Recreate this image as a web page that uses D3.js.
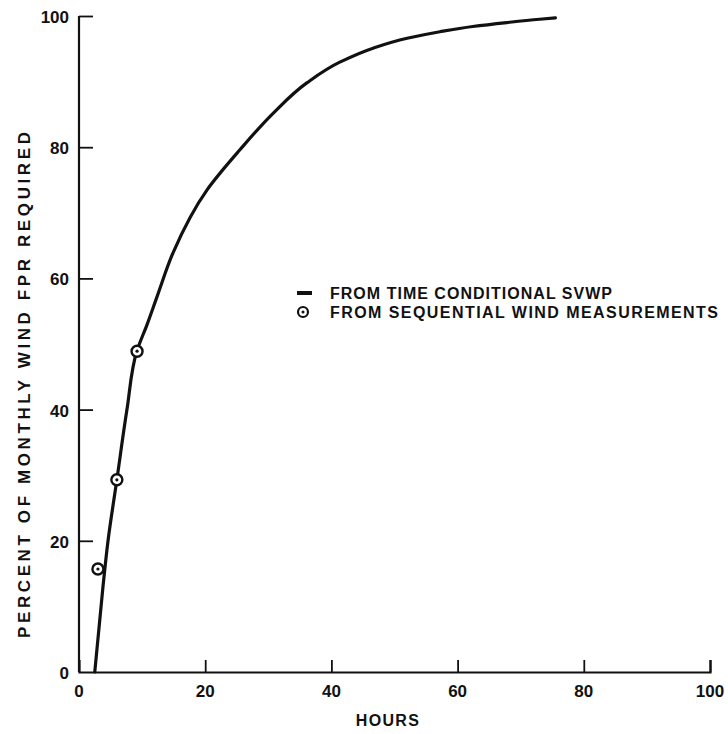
<!DOCTYPE html>
<html>
<head>
<meta charset="utf-8">
<script src="https://cdn.jsdelivr.net/npm/d3@7"></script>
<style>
  body { margin: 0; background: #fff; }
  text { font-family: "Liberation Sans", Arial, sans-serif; font-weight: bold; fill: #111; }
</style>
</head>
<body>
<svg id="chart"></svg>
<script>
// curve: from time conditional SVWP
const curveHours   = [2.5, 3.8, 4.6, 6.0, 7.6, 9.2, 10.8, 12.4, 14.9, 20.3, 25.5, 30.8, 36.1, 41.4, 46.6, 52, 57.2, 62.4, 67.8, 73, 75.5];
const curvePercent = [0, 13, 20, 29.3, 40, 49, 53, 57.3, 63.9, 73.5, 79.6, 85.2, 89.8, 93.0, 95.1, 96.6, 97.6, 98.4, 99.0, 99.5, 99.7];
// points: from sequential wind measurements
const pointHours   = [3.0, 6.0, 9.2];
const pointPercent = [15.7, 29.3, 48.9];
const xTicks = [0, 20, 40, 60, 80, 100];
const yTicks = [0, 20, 40, 60, 80, 100];
const legendLabels = ["FROM TIME CONDITIONAL SVWP", "FROM SEQUENTIAL WIND MEASUREMENTS"];

const W = 728, H = 734;
const margin = { top: 16, right: 18, bottom: 62, left: 79 };

const svg = d3.select("#chart").attr("width", W).attr("height", H);

const x = d3.scaleLinear().domain([0, 100]).range([margin.left, W - margin.right]);
const y = d3.scaleLinear().domain([0, 100]).range([H - margin.bottom, margin.top]);

// x axis, ticks pointing up into the plot
const xAxis = svg.append("g")
  .attr("transform", `translate(0,${y(0)})`)
  .call(d3.axisTop(x).tickValues(xTicks).tickSize(12).tickFormat(""));
xAxis.select(".domain").attr("stroke", "#111").attr("stroke-width", 2.2);
xAxis.selectAll(".tick line").attr("stroke", "#111").attr("stroke-width", 1.8);
xAxis.selectAll(".tick").filter(d => d === 0).remove();

svg.append("g").selectAll("text")
  .data(xTicks)
  .join("text")
  .attr("x", d => x(d))
  .attr("y", y(0) + 25)
  .attr("text-anchor", "middle")
  .style("font-size", "17px")
  .text(d => d);

// y axis, ticks pointing right into the plot
const yAxis = svg.append("g")
  .attr("transform", `translate(${x(0)},0)`)
  .call(d3.axisRight(y).tickValues(yTicks).tickSize(14).tickFormat(""));
yAxis.select(".domain").remove();
yAxis.append("line")
  .attr("x1", 0).attr("x2", 0)
  .attr("y1", y(0)).attr("y2", y(100))
  .attr("stroke", "#111").attr("stroke-width", 2.2);
yAxis.selectAll(".tick line").attr("stroke", "#111").attr("stroke-width", 1.8);
yAxis.selectAll(".tick").filter(d => d === 0).remove();

svg.append("g").selectAll("text")
  .data(yTicks)
  .join("text")
  .attr("x", x(0) - 10)
  .attr("y", d => y(d) + 7)
  .attr("text-anchor", "end")
  .style("font-size", "17px")
  .text(d => d);

// axis titles
svg.append("text")
  .attr("x", 388)
  .attr("y", H - 8)
  .attr("text-anchor", "middle")
  .style("font-size", "16px")
  .style("letter-spacing", "1.3px")
  .text("HOURS");

svg.append("text")
  .attr("transform", `translate(30,385) rotate(-90)`)
  .attr("text-anchor", "middle")
  .attr("textLength", 506)
  .attr("lengthAdjust", "spacing")
  .style("font-size", "17px")
  .text("PERCENT OF MONTHLY WIND FPR REQUIRED");

// curve
const curveData = curveHours.map((h, i) => [h, curvePercent[i]]);
const line = d3.line()
  .x(d => x(d[0]))
  .y(d => y(d[1]))
  .curve(d3.curveMonotoneY);

svg.append("path")
  .datum(curveData)
  .attr("d", line)
  .attr("fill", "none")
  .attr("stroke", "#111")
  .attr("stroke-width", 3.2)
  .attr("stroke-linecap", "round");

// measurement points
const pointData = pointHours.map((h, i) => [h, pointPercent[i]]);
const pts = svg.append("g").selectAll("g")
  .data(pointData)
  .join("g")
  .attr("transform", d => `translate(${x(d[0])},${y(d[1])})`);
pts.append("circle").attr("r", 5.5).attr("fill", "#fff").attr("stroke", "#111").attr("stroke-width", 2.4);
pts.append("circle").attr("r", 1.6).attr("fill", "#111");

// legend
const legend = svg.append("g").attr("transform", "translate(297,293)");
legend.append("line")
  .attr("x1", 0).attr("x2", 15).attr("y1", 0).attr("y2", 0)
  .attr("stroke", "#111").attr("stroke-width", 4);
const lg2 = legend.append("g").attr("transform", "translate(6,19)");
lg2.append("circle").attr("r", 5).attr("fill", "#fff").attr("stroke", "#111").attr("stroke-width", 2.2);
lg2.append("circle").attr("r", 1.5).attr("fill", "#111");

const legendWidths = [282, 388];
legend.selectAll("text.lab")
  .data(legendLabels)
  .join("text")
  .attr("class", "lab")
  .attr("x", 33)
  .attr("y", (d, i) => 6 + i * 19)
  .attr("textLength", (d, i) => legendWidths[i])
  .attr("lengthAdjust", "spacing")
  .style("font-size", "16px")
  .text(d => d);
</script>
</body>
</html>
